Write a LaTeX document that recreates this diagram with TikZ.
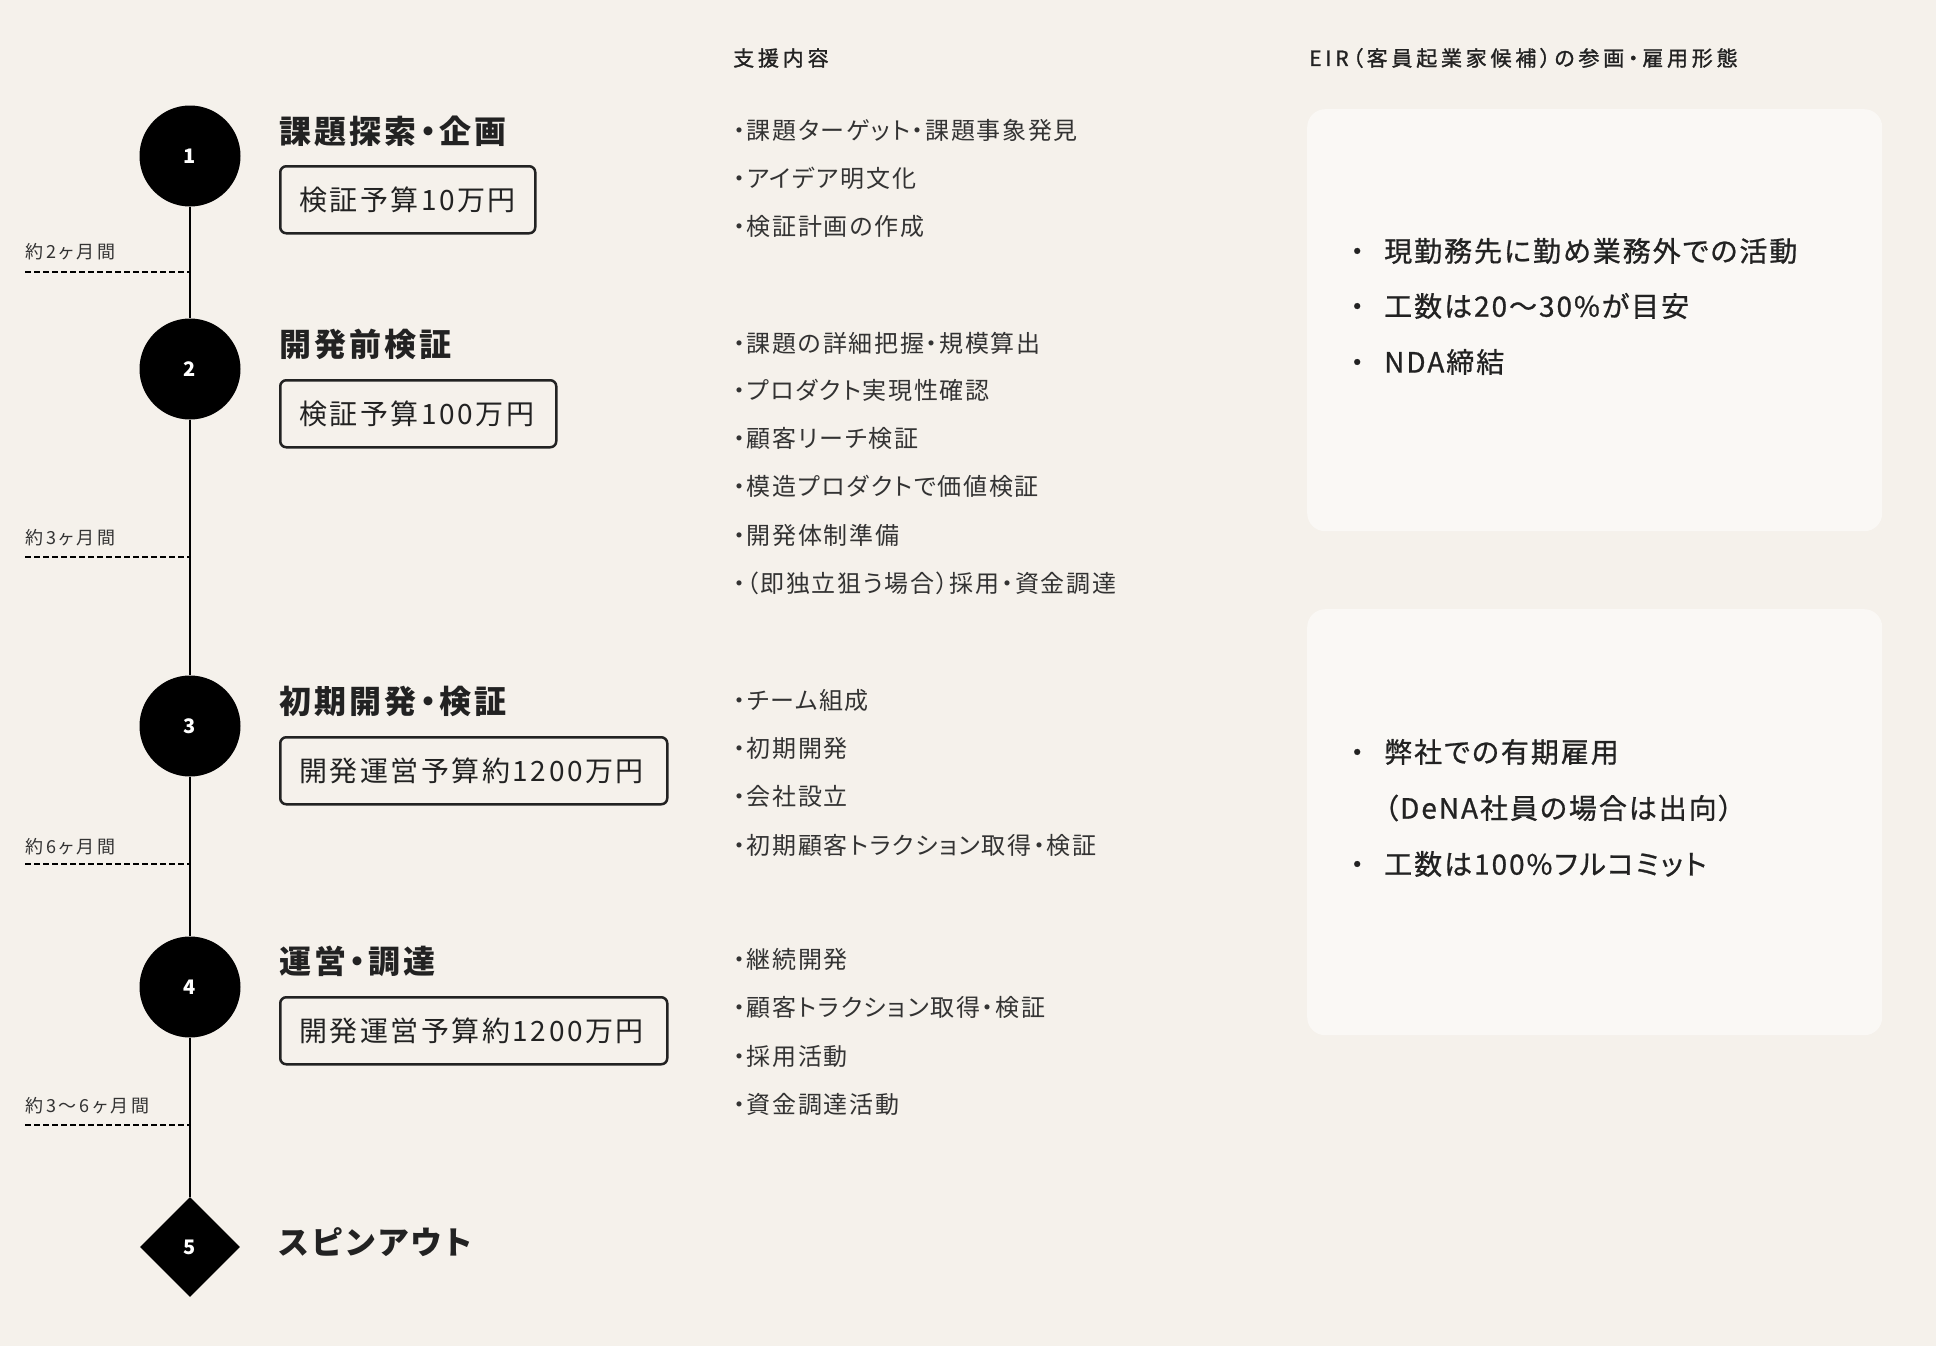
\documentclass[tikz,border=0pt]{standalone}
\usepackage{fontspec}
\usetikzlibrary{shapes.geometric}
\setmainfont{Noto Sans CJK JP}[LetterSpace=7, RawFeature=+palt]
\newfontfamily\hdrfont{Noto Sans CJK JP}[LetterSpace=18, RawFeature=+palt, FakeBold=1.2]
\newfontfamily\medfont{Noto Sans CJK JP}[LetterSpace=7, RawFeature=+palt, FakeBold=0.8]
\newfontfamily\ttlfont{Noto Sans CJK JP}[LetterSpace=10, RawFeature=+palt]
\newfontfamily\durfont{Noto Sans CJK JP}[LetterSpace=16, RawFeature=+palt]
\newfontfamily\budfont{Noto Sans CJK JP}[LetterSpace=9, RawFeature=+palt]
\definecolor{bg}{HTML}{F5F1EB}
\definecolor{cardfill}{HTML}{FAF8F5}
\definecolor{ink}{HTML}{222222}
\definecolor{txt}{HTML}{333333}
\tikzset{
  stepcirc/.style={circle, fill=black, minimum size=101pt, inner sep=0pt, text=white, font=\bfseries\fontsize{20}{20}\selectfont},
  stepdia/.style={diamond, fill=black, minimum width=100pt, minimum height=100pt, inner sep=0pt, text=white, font=\bfseries\fontsize{20}{20}\selectfont},
  tline/.style={line width=2.5pt, black},
  dline/.style={line width=2pt, dash pattern=on 6pt off 3pt, black},
  durlbl/.style={anchor=west, inner sep=0pt, text=txt, font=\durfont\fontsize{18}{20}\selectfont},
  ttl/.style={anchor=west, inner sep=0pt, text=ink, font=\ttlfont\bfseries\fontsize{32}{36}\selectfont},
  budget/.style={draw=ink, line width=2.5pt, rounded corners=6pt, anchor=north west, minimum height=67pt, inner xsep=19pt, inner ysep=0pt, align=left, text=ink, font=\budfont\fontsize{28}{30}\selectfont},
  item/.style={anchor=west, inner sep=0pt, text=txt, font=\fontsize{24}{26}\selectfont},
  hdr/.style={anchor=west, inner sep=0pt, text=ink, font=\hdrfont\fontsize{21}{24}\selectfont},
  cardbox/.style={fill=cardfill, rounded corners=18pt, anchor=north west, inner sep=0pt},
  ritem/.style={anchor=west, inner sep=0pt, text=ink, font=\medfont\fontsize{28}{30}\selectfont},
}
\newcommand{\rb}{\llap{\makebox[0pt]{・}\hspace{27pt}}}
\begin{document}
\begin{tikzpicture}[x=1pt, y=-1pt]
\path[fill=bg] (0,0) rectangle (1936,1346);
\useasboundingbox (0,0) rectangle (1936,1346);

% headers
\node[hdr] (h1) at (733,58) {支援内容};
\node[hdr] (h2) at (1309,58) {EIR（客員起業家候補）の参画・雇用形態};

% cards
\node[cardbox, minimum width=575pt, minimum height=422pt] (cardA) at (1307,109) {};
\node[cardbox, minimum width=575pt, minimum height=426pt] (cardB) at (1307,609) {};

% steps
\node[stepcirc] (s1) at (190,156) {1};
\node[stepcirc] (s2) at (190,369) {2};
\node[stepcirc] (s3) at (190,726) {3};
\node[stepcirc] (s4) at (190,987) {4};
\node[stepdia] (s5) at (190,1247) {5};
\draw[tline] (s1) -- (s2);
\draw[tline] (s2) -- (s3);
\draw[tline] (s3) -- (s4);
\draw[tline] (s4) -- (s5);

% durations
\coordinate (d1) at (25,272);
\coordinate (d2) at (25,557);
\coordinate (d3) at (25,864);
\coordinate (d4) at (25,1125);
\draw[dline] (d1) -- (d1 -| s1.center);
\draw[dline] (d2) -- (d2 -| s1.center);
\draw[dline] (d3) -- (d3 -| s1.center);
\draw[dline] (d4) -- (d4 -| s1.center);
\node[durlbl] (l1) at (25,252) {約2ヶ月間};
\node[durlbl] (l2) at (25,538) {約3ヶ月間};
\node[durlbl] (l3) at (25,847) {約6ヶ月間};
\node[durlbl] (l4) at (25,1106) {約3〜6ヶ月間};

% titles
\node[ttl] (t1) at (279,131) {課題探索・企画};
\node[ttl] (t2) at (279,344) {開発前検証};
\node[ttl] (t3) at (279,701) {初期開発・検証};
\node[ttl] (t4) at (279,961) {運営・調達};
\node[ttl] (t5) at (279,1242) {スピンアウト};

% budgets
\node[budget, text width=217pt] (b1) at (279,165) {検証予算10万円};
\node[budget, text width=238pt] (b2) at (279,379) {検証予算100万円};
\node[budget, text width=349pt] (b3) at (279,736) {開発運営予算約1200万円};
\node[budget, text width=349pt] (b4) at (279,996) {開発運営予算約1200万円};

% support items
\node[item] (i11) at (733,130) {・課題ターゲット・課題事象発見};
\node[item] (i12) at (733,178) {・アイデア明文化};
\node[item] (i13) at (733,226) {・検証計画の作成};
\node[item] (i21) at (733,343) {・課題の詳細把握・規模算出};
\node[item] (i22) at (733,390) {・プロダクト実現性確認};
\node[item] (i23) at (733,438) {・顧客リーチ検証};
\node[item] (i24) at (733,486) {・模造プロダクトで価値検証};
\node[item] (i25) at (733,535) {・開発体制準備};
\node[item] (i26) at (733,583) {・（即独立狙う場合）採用・資金調達};
\node[item] (i31) at (733,700) {・チーム組成};
\node[item] (i32) at (733,748) {・初期開発};
\node[item] (i33) at (733,796) {・会社設立};
\node[item] (i34) at (733,845) {・初期顧客トラクション取得・検証};
\node[item] (i41) at (733,959) {・継続開発};
\node[item] (i42) at (733,1007) {・顧客トラクション取得・検証};
\node[item] (i43) at (733,1056) {・採用活動};
\node[item] (i44) at (733,1104) {・資金調達活動};

% EIR items
\node[ritem] (r1) at (1384,251) {\rb 現勤務先に勤め業務外での活動};
\node[ritem] (r2) at (1384,306) {\rb 工数は20〜30\%が目安};
\node[ritem] (r3) at (1384,362) {\rb NDA締結};
\node[ritem] (r4) at (1384,752) {\rb 弊社での有期雇用};
\node[ritem] (r5) at (1384,808) {（DeNA社員の場合は出向）};
\node[ritem] (r6) at (1384,864) {\rb 工数は100\%フルコミット};
\end{tikzpicture}
\end{document}
